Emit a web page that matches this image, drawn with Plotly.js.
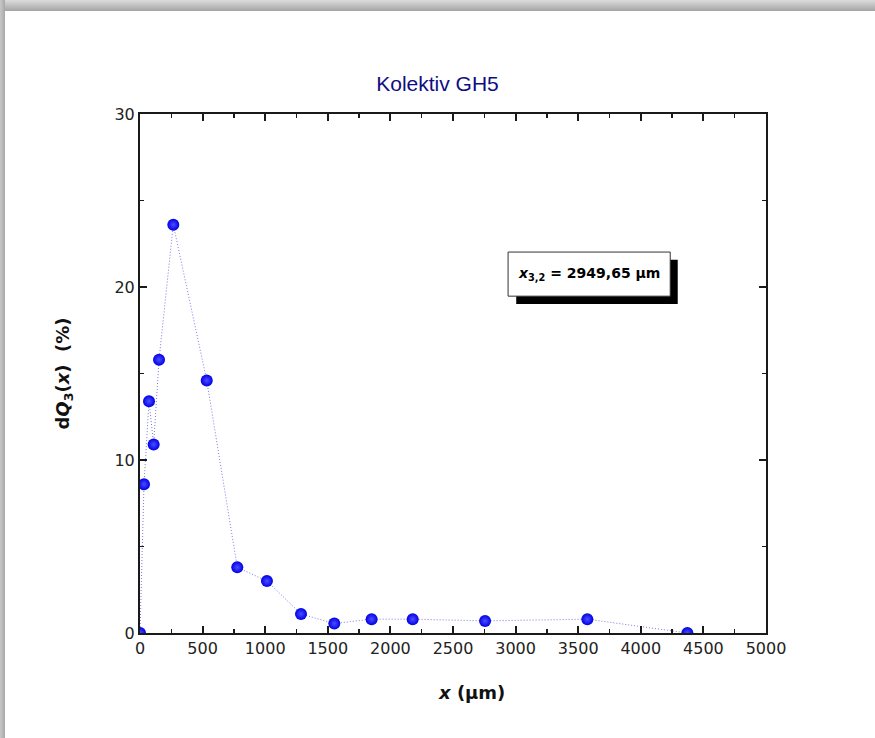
<!DOCTYPE html>
<html>
<head>
<meta charset="utf-8">
<script src="https://cdn.plot.ly/plotly-3.0.1.min.js"></script>
<style>
  html, body { margin: 0; padding: 0; background: #ffffff; }
  #wrap { position: relative; width: 875px; height: 738px; overflow: hidden; }
  #chart { position: absolute; left: 0; top: 0; width: 875px; height: 738px; }
  #topband { position: absolute; left: 0; top: 0; width: 875px; height: 11px;
    background: linear-gradient(to bottom, #dcdcdc, #a4a4a4); pointer-events: none; }
  #leftband { position: absolute; left: 0; top: 0; width: 5px; height: 738px;
    background: linear-gradient(to right, #c8c8c8, #a8a8a8); pointer-events: none; }
</style>
</head>
<body>
<div id="wrap">
  <div id="chart"></div>
  <div id="topband"></div>
  <div id="leftband"></div>
</div>
<script>
// Particle size (µm) and differential mass fraction dQ3 (%)
const sizeUm = [0, 32, 72, 109, 152, 266, 533, 777, 1014, 1286, 1552, 1850, 2178, 2756, 3573, 4372];
const dQ3 = [0, 8.6, 13.4, 10.9, 15.8, 23.6, 14.6, 3.8, 3.0, 1.1, 0.55, 0.8, 0.8, 0.7, 0.8, 0];
const chartTitle = 'Kolektiv GH5';
const xTitle = '<b><i>x</i> (μm)</b>';
const yTitle = '<b>d<i>Q</i><sub>3</sub>(<i>x</i>)  (%)</b>';
const x32Label = '<b><i>x</i><sub>3,2</sub> = 2949,65 μm</b>';

const trace = {
  x: sizeUm,
  y: dQ3,
  type: 'scatter',
  mode: 'lines+markers',
  line: { color: '#7a7ae0', width: 1, dash: '1px,2px' },
  marker: {
    color: '#0000e6',
    size: 12,
    line: { width: 0 },
    gradient: { type: 'radial', color: '#4d4dff' }
  },
  hoverinfo: 'x+y'
};

const axisCommon = {
  showline: true,
  linecolor: '#1a1a1a',
  linewidth: 2,
  mirror: 'ticks',
  ticks: 'inside',
  ticklen: 7,
  tickwidth: 2,
  tickcolor: '#1a1a1a',
  showgrid: false,
  zeroline: false,
  tickfont: { family: 'DejaVu Sans, Verdana, sans-serif', size: 16, color: '#222' }
};

const layout = {
  width: 875,
  height: 738,
  paper_bgcolor: '#ffffff',
  plot_bgcolor: '#ffffff',
  showlegend: false,
  margin: { l: 140, r: 109, t: 114, b: 105 },
  title: {
    text: chartTitle,
    font: { family: 'Liberation Sans, Arial, sans-serif', size: 21, color: '#0e0e82' },
    x: 0.5, xanchor: 'center',
    y: 1 - 84 / 738, yanchor: 'middle'
  },
  xaxis: Object.assign({}, axisCommon, {
    range: [0, 5000],
    tickmode: 'linear', tick0: 0, dtick: 500,
    minor: { ticks: 'inside', dtick: 250, ticklen: 4, tickwidth: 1.5, tickcolor: '#1a1a1a', showgrid: false }
  }),
  yaxis: Object.assign({}, axisCommon, {
    range: [0, 30],
    tickmode: 'linear', tick0: 0, dtick: 10,
    minor: { ticks: 'inside', dtick: 5, ticklen: 4, tickwidth: 1.5, tickcolor: '#1a1a1a', showgrid: false },
    title: {
      text: yTitle,
      font: { family: 'DejaVu Sans, Verdana, sans-serif', size: 18, color: '#111' },
      standoff: 40
    }
  }),
  shapes: [
    { type: 'rect', xref: 'paper', yref: 'paper', layer: 'above',
      x0: 0.601, x1: 0.859, y0: 0.634, y1: 0.719,
      fillcolor: '#000000', line: { width: 0 } },
    { type: 'rect', xref: 'paper', yref: 'paper', layer: 'above',
      x0: 0.588, x1: 0.847, y0: 0.649, y1: 0.734,
      fillcolor: '#ffffff', line: { color: '#333333', width: 1 } }
  ],
  annotations: [
    { xref: 'paper', yref: 'paper', x: 0.7175, y: 0.6915,
      xanchor: 'center', yanchor: 'middle', showarrow: false,
      text: x32Label,
      font: { family: 'DejaVu Sans, Verdana, sans-serif', size: 14, color: '#000' } },
    { xref: 'paper', yref: 'paper', x: 0.53, y: -0.114,
      xanchor: 'center', yanchor: 'middle', showarrow: false,
      text: xTitle,
      font: { family: 'DejaVu Sans, Verdana, sans-serif', size: 18, color: '#111' } }
  ]
};

Plotly.newPlot('chart', [trace], layout, { displayModeBar: false, staticPlot: true });
</script>
</body>
</html>
